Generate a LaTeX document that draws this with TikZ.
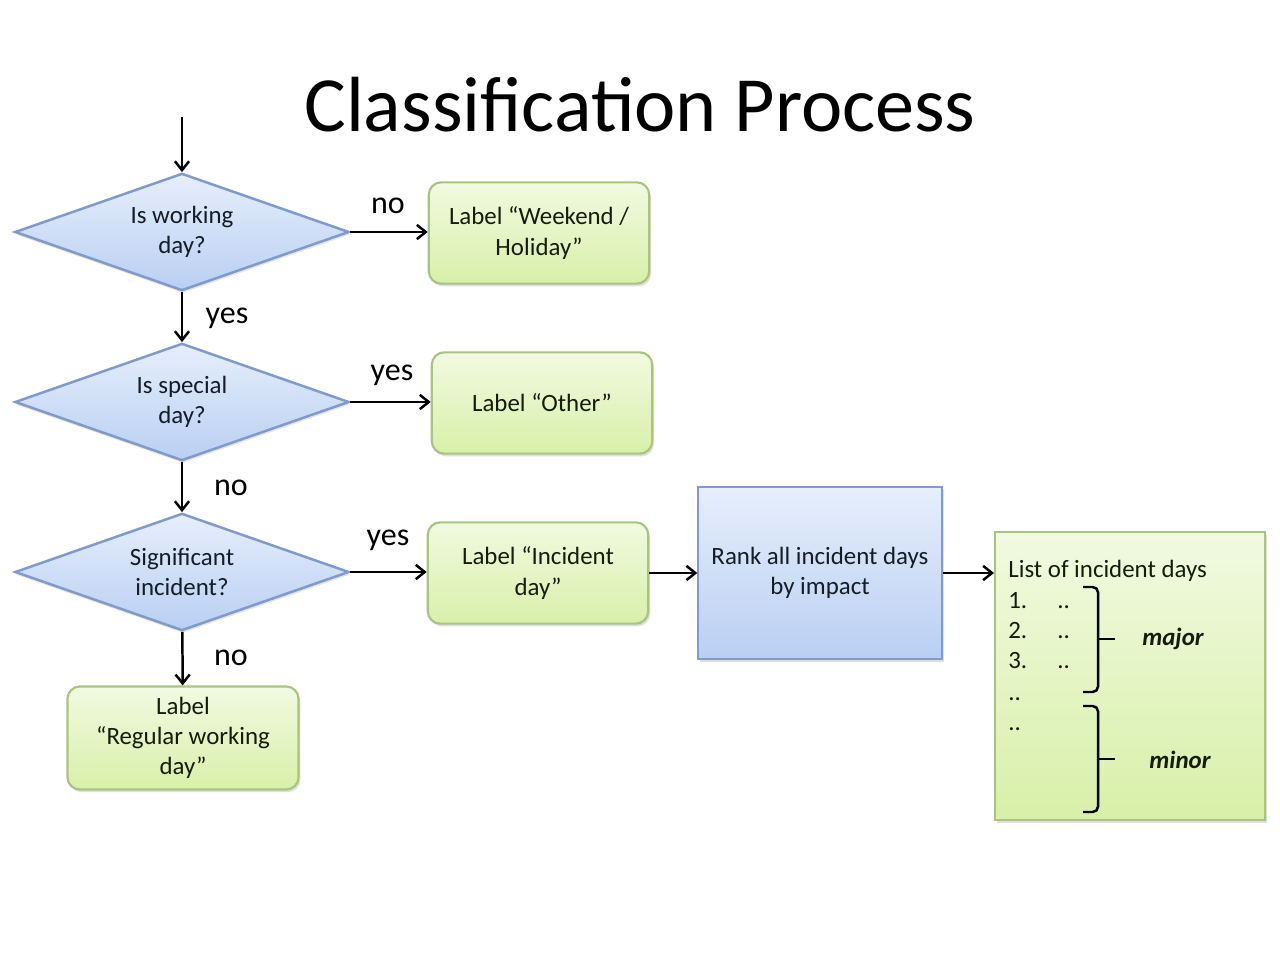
\documentclass[tikz,border=0pt]{standalone}
\usepackage{fontspec}
\setmainfont{Carlito}
\usepackage{tikz}
\usetikzlibrary{shapes.geometric, arrows.meta, shadows}

\definecolor{bluefill}{HTML}{B9CFF3}
\definecolor{blueline}{HTML}{7F9ACB}
\definecolor{greenfill}{HTML}{D8F0A9}
\definecolor{greenline}{HTML}{A9C47F}
\definecolor{bluetext}{HTML}{141C28}
\definecolor{greentext}{HTML}{151C0C}

\tikzset{
  decision/.style={diamond, aspect=2.84, draw=blueline, line width=1.4pt, top color=bluefill!35, bottom color=bluefill,
    drop shadow={opacity=0.2, shadow xshift=0.5pt, shadow yshift=-1.5pt},
    minimum width=188pt, minimum height=66pt, inner sep=0pt, align=center,
    font=\fontsize{14}{16.5}\selectfont, text=bluetext},
  labelbox/.style={rectangle, rounded corners=7pt, draw=greenline, line width=1.2pt,
    top color=greenfill!35, bottom color=greenfill, drop shadow={opacity=0.25, shadow xshift=1pt, shadow yshift=-1.5pt},
    minimum width=124pt, minimum height=57pt, align=center, font=\fontsize{14}{17}\selectfont, text=greentext},
  rankbox/.style={rectangle, draw=blueline, line width=1pt, top color=bluefill!35, bottom color=bluefill,
    drop shadow={opacity=0.25, shadow xshift=1pt, shadow yshift=-1.5pt},
    minimum width=137pt, minimum height=97pt, align=center, font=\fontsize{14}{17}\selectfont, text=bluetext},
  listbox/.style={rectangle, draw=greenline, line width=1pt, top color=greenfill!35, bottom color=greenfill,
    drop shadow={opacity=0.25, shadow xshift=1pt, shadow yshift=-1.5pt},
    minimum width=152pt, minimum height=162pt},
  answer/.style={font=\fontsize{18}{18}\selectfont},
  flow/.style={-{Straight Barb[length=5pt, width=8pt]}, line width=1.4pt},
  bracket/.style={line width=1.4pt, rounded corners=3pt}
}

\begin{document}
\begin{tikzpicture}[x=0.5625pt, y=-0.5625pt]
\useasboundingbox[fill=white] (0,0) rectangle (1280,960);

%% title
\node (title) at (640,105) {\fontsize{44}{44}\selectfont Classification Process};

%% decisions
\coordinate (start) at (182,117);
\node[decision] (work) at (182,232) {Is working\\day?};
\node[decision] (special) at (182,402) {Is special\\day?};
\node[decision] (incident) at (182,572) {Significant\\incident?};

%% labels
\node[labelbox] (weekend) at (539,233) {Label “Weekend /\\Holiday”};
\node[labelbox] (other) at (542,403) {Label “Other”};
\node[labelbox] (incday) at (538,573) {Label “Incident\\day”};
\node[labelbox, minimum width=130pt, minimum height=58pt] (regular) at (183,738) {Label\\“Regular working\\day”};

%% ranking and list
\node[rankbox] (rank) at (820,573) {Rank all incident days\\by impact};
\node[listbox] (list) at (1130,676) {};

\draw[flow] (start) -- (work);
\draw[flow] (work) -- (work -| weekend.west);
\draw[flow] (work) -- (special);
\draw[flow] (special) -- (special -| other.west);
\draw[flow] (special) -- (incident);
\draw[flow] (incident) -- (incident -| incday.west);
\draw[flow] (incident) -- (regular);
\draw[flow] (incday) -- (rank);
\draw[flow] (rank.east) -- (rank.east -| list.west);

\node[answer] (a1) at (388,206) {no};
\node[answer] (a2) at (227,318) {yes};
\node[answer] (a3) at (392,375) {yes};
\node[answer] (a4) at (231,488) {no};
\node[answer] (a5) at (388,540) {yes};
\node[answer] (a6) at (231,658) {no};

%% list contents
\begin{scope}[every node/.style={anchor=west, font=\fontsize{14}{14}\selectfont, text=greentext, inner sep=0pt,
    text height=1.6ex, text depth=0.3ex}]
\node (head) at (1008,572) {List of incident days};
\node (n1) at (1008,603) {1.};
\node (n2) at (1008,633) {2.};
\node (n3) at (1008,663) {3.};
\node (n4) at (1008,695) {..};
\node (n5) at (1008,725) {..};
\node (d1) at (1057,603) {..};
\node (d2) at (1057,633) {..};
\node (d3) at (1057,663) {..};
\end{scope}

%% braces
\draw[bracket] (1083,587) -- (1098,587) -- (1098,692) -- (1083,692);
\draw[line width=1.4pt] (1098,639) -- (1115,639);
\draw[bracket] (1083,706) -- (1098,706) -- (1098,812) -- (1083,812);
\draw[line width=1.4pt] (1098,759) -- (1115,759);

\node[font=\fontsize{14}{14}\selectfont\bfseries\itshape, text=greentext] (major) at (1173,639) {major};
\node[font=\fontsize{14}{14}\selectfont\bfseries\itshape, text=greentext] (minor) at (1180,760) {minor};
\end{tikzpicture}
\end{document}
